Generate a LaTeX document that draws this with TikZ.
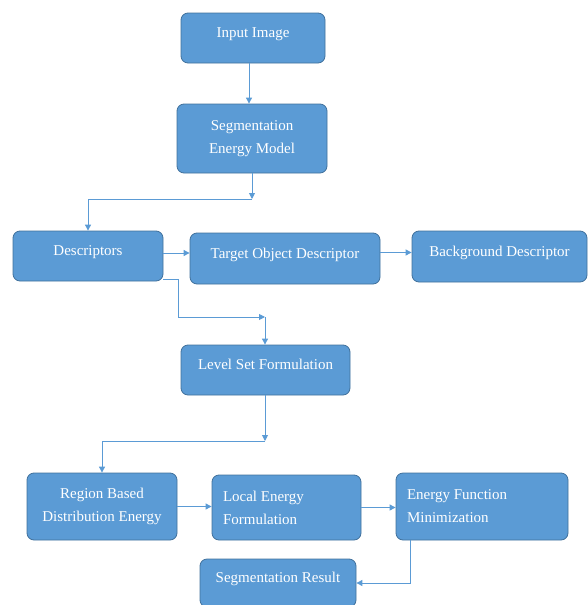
\documentclass[tikz,border=0pt]{standalone}
\usepackage{fontspec}
\setmainfont{Liberation Serif}
\usetikzlibrary{arrows.meta}
\definecolor{boxblue}{HTML}{5B9BD5}
\definecolor{boxedge}{HTML}{41719C}

\begin{document}
\begin{tikzpicture}[x=1pt, y=-1pt,
	box/.style={draw=boxedge, fill=boxblue, line width=0.8pt, rounded corners=7pt, text=white, font=\fontsize{15}{23}\selectfont, inner sep=0pt, align=center},
	lefttext/.style={align=flush left, inner xsep=11pt},
	raised/.style={text depth=11pt},
	arr/.style={draw=boxblue, line width=0.9pt, -{Triangle[length=6pt,width=6pt]}},
	conn/.style={draw=boxblue, line width=0.9pt}]
	\useasboundingbox (0,0) rectangle (588,605);
	
	\node [box, raised, minimum width=144pt, minimum height=50pt] (inp) at (253,38) {Input Image};
	\node [box, minimum width=150pt, minimum height=69pt] (sem) at (252,138.5) {Segmentation\\Energy Model};
	\node [box, raised, minimum width=150pt, minimum height=50pt] (desc) at (88,256) {Descriptors};
	\node [box, raised, minimum width=190pt, minimum height=51pt] (tgt) at (285,258.5) {Target Object Descriptor};
	\node [box, raised, minimum width=175pt, minimum height=51pt] (bgd) at (499.5,256.5) {Background Descriptor};
	\node [box, raised, minimum width=169pt, minimum height=50pt] (lvl) at (265.5,370) {Level Set Formulation};
	\node [box, minimum width=150pt, minimum height=67pt] (reg) at (102,506.5) {Region Based\\Distribution Energy};
	\node [box, lefttext, text width=127pt, minimum height=65pt] (loc) at (286.5,507.5) {Local Energy\\Formulation};
	\node [box, lefttext, text width=150pt, minimum height=67pt] (efm) at (482,506.5) {Energy Function\\Minimization};
	\node [box, raised, minimum width=156pt, minimum height=48pt] (res) at (278,583) {Segmentation Result};
	
	\coordinate (k1) at (252,199);
	\coordinate (k2) at (265,317);
	\coordinate (k3) at (265,441);
	
	\draw [arr] ([xshift=-4pt]inp.south) -- ([xshift=-4pt]inp.south |- sem.north);
	\draw [arr] (sem.south) -- (k1);
	\draw [arr] (k1) -| (desc.north);
	\draw [arr] ([yshift=3pt]desc.east) -- ([yshift=3pt]desc.east -| tgt.west);
	\draw [arr] ([yshift=4pt]tgt.east |- bgd.west) -- ([yshift=4pt]bgd.west);
	\draw [arr] ([yshift=2pt]desc.south east) -- ++(15,0) |- (k2);
	\draw [arr] (k2) -- (k2 |- lvl.north);
	\draw [arr] (k3 |- lvl.south) -- (k3);
	\draw [arr] (k3) -| (reg.north);
	\draw [arr] (reg.east) -- (reg.east -| loc.west);
	\draw [arr] (loc.east) -- (loc.east -| efm.west);
	\draw [arr] ([xshift=15pt]efm.south west) |- (res.east);
%	\draw [step=50, gray!30] (0,0) grid (588,605);
\end{tikzpicture}
\end{document}
